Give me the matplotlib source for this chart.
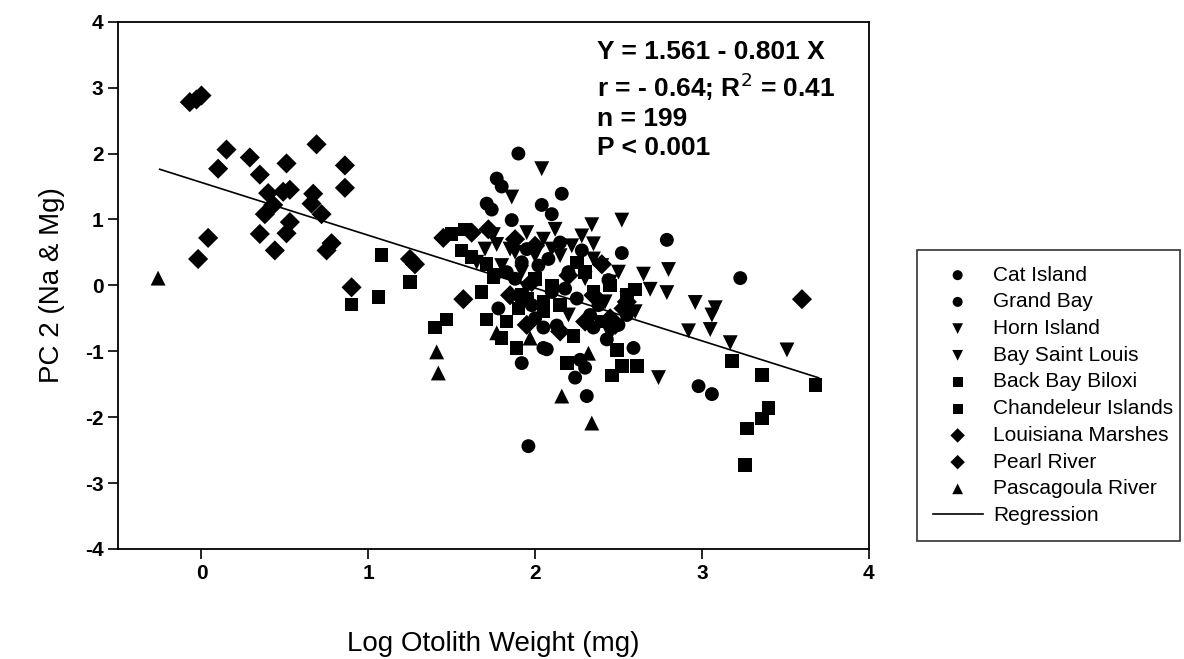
import numpy as np
import matplotlib
matplotlib.use("Agg")
import matplotlib.pyplot as plt

plt.rcParams['font.family'] = ['Liberation Sans', 'DejaVu Sans']
plt.rcParams['axes.unicode_minus'] = False

# circles
cat_island_x = [1.90, 1.77, 1.80, 1.71, 1.74, 2.16, 2.04, 2.10, 1.86, 2.79, 2.52, 2.28, 2.44, 3.23, 2.98, 3.06, 1.96, 2.31, 1.92, 2.07, 2.05, 1.83, 2.18]
cat_island_y = [2.00, 1.62, 1.50, 1.24, 1.15, 1.39, 1.22, 1.08, 0.99, 0.69, 0.49, 0.53, 0.08, 0.11, -1.53, -1.65, -2.44, -1.68, -1.18, -0.97, -0.95, 0.20, -0.05]
grand_bay_x = [2.13, 2.35, 2.59, 2.27, 2.24, 2.30, 2.43, 2.05, 1.95, 2.02, 2.20, 2.10, 1.98, 2.38, 2.55, 1.88, 2.25, 2.50, 2.15, 1.92, 2.00, 2.33, 2.08, 1.78]
grand_bay_y = [-0.61, -0.64, -0.95, -1.13, -1.40, -1.25, -0.82, -0.64, 0.55, 0.30, 0.20, -0.10, -0.30, -0.30, -0.45, 0.10, -0.20, -0.60, 0.65, 0.35, -0.50, -0.45, 0.40, -0.35]

# down triangles
horn_island_x = [2.04, 1.86, 2.52, 2.34, 2.35, 2.65, 2.80, 2.69, 2.79, 2.96, 3.08, 3.06, 3.05, 2.92, 3.17, 3.51, 2.74, 1.75, 1.77, 1.85, 1.70, 2.12]
horn_island_y = [1.77, 1.34, 0.99, 0.92, 0.63, 0.17, 0.24, -0.06, -0.11, -0.26, -0.34, -0.45, -0.67, -0.69, -0.87, -0.98, -1.40, 0.77, 0.62, 0.55, 0.55, 0.85]
bay_st_louis_x = [1.95, 2.05, 2.15, 2.22, 2.40, 2.45, 2.55, 1.80, 1.78, 1.65, 2.30, 2.10, 2.00, 2.60, 2.45, 2.20, 1.88, 2.50, 1.95, 2.35, 2.28, 1.92, 2.42]
bay_st_louis_y = [0.80, 0.70, 0.45, 0.60, 0.30, 0.05, -0.20, 0.30, 0.15, 0.35, 0.10, 0.55, 0.45, -0.40, -0.75, -0.45, 0.50, 0.20, -0.05, 0.40, 0.75, 0.20, -0.25]

# squares
back_bay_x = [1.25, 1.06, 1.08, 0.90, 1.47, 1.40, 1.71, 1.89, 1.58, 1.50, 1.56, 1.62, 1.71, 1.75, 2.19, 2.46, 2.52, 2.61, 2.23, 2.49, 1.68, 2.25]
back_bay_y = [0.05, -0.18, 0.46, -0.29, -0.52, -0.64, -0.52, -0.95, 0.85, 0.78, 0.53, 0.43, 0.32, 0.12, -1.18, -1.37, -1.22, -1.22, -0.77, -0.98, -0.10, 0.35]
chandeleur_x = [2.60, 3.18, 3.36, 3.68, 3.40, 3.36, 3.27, 3.26, 2.55, 2.10, 1.95, 2.05, 2.30, 1.90, 2.40, 2.00, 1.83, 2.15, 1.92, 2.35, 2.45, 1.80, 2.05]
chandeleur_y = [-0.06, -1.15, -1.36, -1.51, -1.86, -2.02, -2.17, -2.73, -0.15, 0.00, -0.20, -0.25, 0.20, -0.35, -0.55, 0.10, -0.55, -0.30, -0.15, -0.10, 0.00, -0.80, -0.40]

# diamonds
louisiana_x = [0.00, -0.03, -0.07, 0.15, 0.29, 0.10, 0.35, 0.51, 0.69, 0.86, 0.86, 0.40, 0.49, 0.53, 0.67, 0.43, 0.38, 0.66, 0.72, 0.53, 0.51, 0.35, 0.44, 0.78, 0.75, 0.04, -0.02]
louisiana_y = [2.88, 2.82, 2.78, 2.06, 1.94, 1.77, 1.68, 1.85, 2.14, 1.82, 1.48, 1.40, 1.42, 1.45, 1.39, 1.22, 1.08, 1.24, 1.08, 0.96, 0.79, 0.78, 0.53, 0.64, 0.53, 0.72, 0.40]
pearl_x = [0.90, 1.28, 1.25, 1.45, 1.57, 2.40, 3.60, 1.62, 1.72, 2.53, 2.20, 2.00, 1.85, 2.45, 1.95, 2.30, 2.55, 1.98, 2.15, 2.35, 1.88, 2.48]
pearl_y = [-0.03, 0.32, 0.40, 0.72, -0.21, 0.32, -0.21, 0.80, 0.85, -0.35, 0.15, 0.60, -0.15, -0.50, -0.60, -0.55, -0.25, 0.05, -0.70, -0.15, 0.70, -0.60]

# up triangles
pascagoula_x = [-0.26, 1.41, 1.42, 2.16, 2.34, 1.77, 1.97, 2.32]
pascagoula_y = [0.11, -1.01, -1.33, -1.68, -2.09, -0.72, -0.80, -1.03]

reg_intercept = 1.561
reg_slope = -0.801
reg_x_range = [-0.25, 3.7]

series = [
    ("Cat Island", cat_island_x, cat_island_y, "o", 100),
    ("Grand Bay", grand_bay_x, grand_bay_y, "o", 100),
    ("Horn Island", horn_island_x, horn_island_y, "v", 115),
    ("Bay Saint Louis", bay_st_louis_x, bay_st_louis_y, "v", 115),
    ("Back Bay Biloxi", back_bay_x, back_bay_y, "s", 95),
    ("Chandeleur Islands", chandeleur_x, chandeleur_y, "s", 95),
    ("Louisiana Marshes", louisiana_x, louisiana_y, "D", 105),
    ("Pearl River", pearl_x, pearl_y, "D", 105),
    ("Pascagoula River", pascagoula_x, pascagoula_y, "^", 115),
]

fig = plt.figure(figsize=(11.84, 6.59), dpi=100)
ax = fig.add_axes([0.0997, 0.167, 0.634, 0.800])

for name, xs, ys, mk, s in series:
    ax.scatter(xs, ys, marker=mk, s=s, color="black", edgecolors="none", label=name)

lx = np.array(reg_x_range)
ax.plot(lx, reg_intercept + reg_slope * lx, color="black", lw=1.2, label="Regression")

ax.set_xlim(-0.5, 4)
ax.set_ylim(-4, 4)
ax.set_xticks([0, 1, 2, 3, 4])
ax.set_yticks([-4, -3, -2, -1, 0, 1, 2, 3, 4])
ax.tick_params(direction="out", length=7, width=1.2, labelsize=15)
for lab in ax.get_xticklabels() + ax.get_yticklabels():
    lab.set_fontweight("bold")
for sp in ax.spines.values():
    sp.set_linewidth(1.3)

ax.set_xlabel("Log Otolith Weight (mg)", fontsize=20, labelpad=35)
ax.set_ylabel("PC 2 (Na & Mg)", fontsize=20, labelpad=14)

ax.text(0.638, 0.966, "Y = 1.561 - 0.801 X\nr = - 0.64; R$^2$ = 0.41\nn = 199\nP < 0.001",
        transform=ax.transAxes, ha="left", va="top", fontsize=19, fontweight="bold",
        linespacing=1.24)

leg = fig.legend(loc="upper left", bbox_to_anchor=(0.7745, 0.0, 0.2225, 0.6206),
                 mode="expand", borderaxespad=0, fontsize=15, frameon=True,
                 fancybox=False, edgecolor="black", borderpad=0.75, labelspacing=0.37,
                 handletextpad=0.5, markerscale=0.72, handlelength=2.4)
leg.get_frame().set_linewidth(1.2)

fig.savefig("out.png", dpi=100)
